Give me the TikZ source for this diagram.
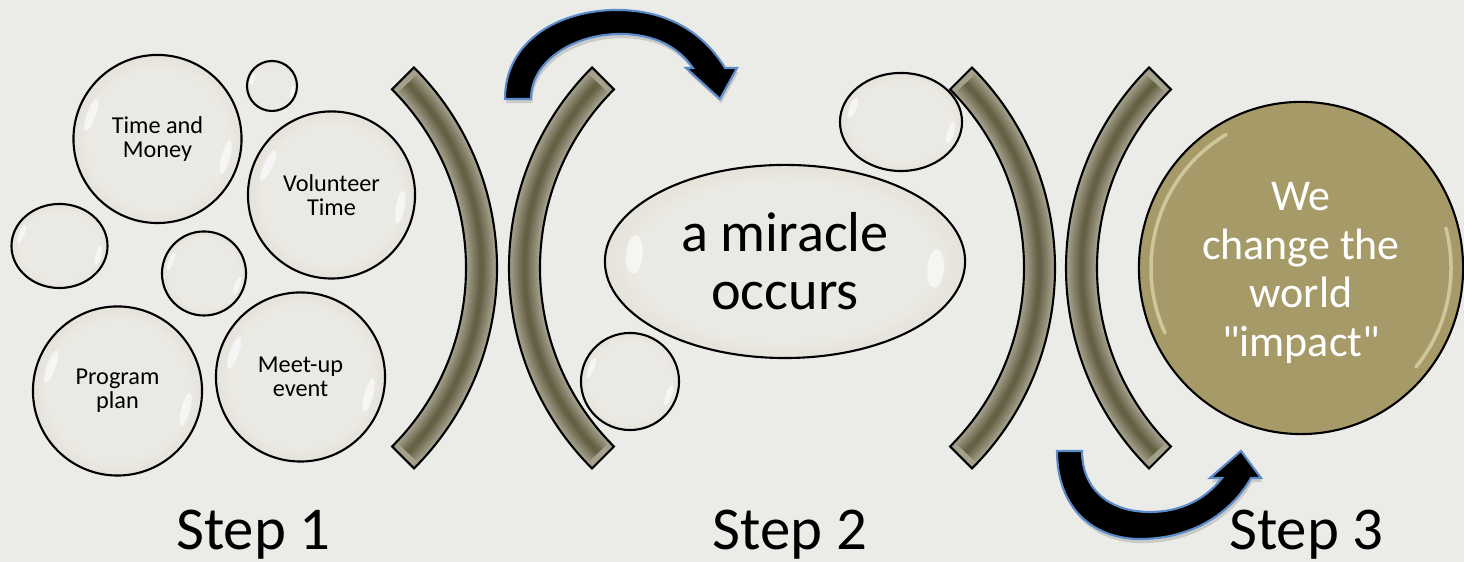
\documentclass[tikz,border=0pt]{standalone}
\usepackage{fontspec}
\setmainfont{Carlito}
\usepackage{xcolor}
\usepackage{tikz}
\usetikzlibrary{calc,shapes.geometric,shadows}
\definecolor{figBg}{HTML}{EBEBE8}
\definecolor{bubbleIn}{HTML}{EAE9E3}
\definecolor{bubbleMid}{HTML}{DCD8CA}
\definecolor{bubbleRim}{HTML}{BCB59D}
\definecolor{figGold}{HTML}{A69B68}
\definecolor{goldGlow}{HTML}{F2ECC8}
\definecolor{bandEdge}{HTML}{A3A08C}
\definecolor{bandCore}{HTML}{635E42}
\definecolor{arrowBlue}{HTML}{5B8BC9}

\pgfdeclareradialshading{bubble}{\pgfpoint{0bp}{0bp}}{%
  color(0bp)=(bubbleIn); color(21bp)=(bubbleIn); color(31bp)=(bubbleMid);
  color(35bp)=(bubbleRim); color(50bp)=(bubbleRim)}

\begin{document}
\begin{tikzpicture}[
  % one unit = one pixel of the 1464 x 562 slide, y upwards
  x=0.01cm, y=0.01cm,
  bubble/.style={
    circle, draw=black, line width=0.6pt, shading=bubble,
    inner sep=0pt, align=center, text=black,
    font=\fontsize{6.9}{6.9}\selectfont
  },
  oval/.style={bubble, ellipse},
  gloss/.style={white, opacity=0.6},
  goldball/.style={
    ellipse, draw=black, fill=figGold, line width=0.6pt,
    inner sep=0pt, align=center, text=white,
    font=\fontsize{12.5}{13.8}\selectfont
  },
  glow/.style={goldGlow, opacity=0.55, line width=0.035cm, line cap=round},
  bracket/.style={fill=bandEdge, draw=black, line width=0.6pt},
  turn/.style={
    fill=black, draw=arrowBlue, line width=0.6pt,
    drop shadow={opacity=0.3, shadow xshift=0.4pt, shadow yshift=-1.2pt}
  },
  steplabel/.style={anchor=base, inner sep=0pt,
    font=\fontsize{17.3}{20}\selectfont},
]

% --- Slide background ---
\fill[figBg] (0,0) rectangle (1464,562);
\useasboundingbox (0,0) rectangle (1464,562);

% --- Brackets: ) ( pairs, thick arcs with darker core ---
\foreach \cx/\a in {213.5/-45, 792.5/135, 771.5/-45, 1349.5/135} {
  \pgfmathsetmacro{\b}{\a+90}
  \pgfmathsetmacro{\in}{\a+270}
  \draw[bracket] (\cx,294) ++(\a:283.5)
    arc[start angle=\a, delta angle=90, radius=283.5]
    -- ++(\in:31)
    arc[start angle=\b, delta angle=-90, radius=252.5] -- cycle;
  \foreach \i in {1,...,8} {
    \pgfmathsetmacro{\w}{30-3.2*\i}
    \pgfmathtruncatemacro{\mix}{100-12*\i}
    \draw[line width=\w*0.01cm, bandEdge!\mix!bandCore] (\cx,294) ++(\a+1.5:268)
      arc[start angle=\a+1.5, delta angle=87, radius=268];
  }
}

% --- Step 1: resources ---
\node[bubble, minimum size=1.68cm] (money) at (157.5,423) {Time and\\Money};
\node[bubble, minimum size=0.50cm] (dotTop) at (272,476) {};
\node[bubble, minimum size=1.67cm] (volunteer) at (331.5,367) {Volunteer\\Time};
\node[oval, minimum width=0.96cm, minimum height=0.84cm] (dotLeft) at (59.5,316) {};
\node[bubble, minimum size=0.84cm] (dotMid) at (204,288.5) {};
\node[bubble, minimum size=1.69cm] (program) at (117.5,171) {Program\\plan};
\node[bubble, minimum size=1.69cm] (meetup) at (300.5,185) {Meet-up\\event};

% --- Step 2: the miracle ---
\node[oval, minimum width=3.60cm, minimum height=1.93cm,
      font=\fontsize{16}{16.5}\selectfont]
  (miracle) at (785,300.5) {a miracle\\occurs};
\node[oval, minimum width=1.22cm, minimum height=0.98cm] (dotUp) at (901,440) {};
\node[oval, minimum width=0.98cm, minimum height=0.97cm] (dotLow) at (630,180.5) {};

% --- Glossy highlights on the bubbles ---
\foreach \n/\rx/\ry/\p/\q in {money/84/84/160/-15, dotTop/25/25/160/-15,
    volunteer/83/83/155/-10, dotLeft/48/42/160/-15, dotMid/42/42/160/-20,
    program/84/84/160/-15, meetup/84/84/160/-15, miracle/180/96/175/-5,
    dotUp/61/49/160/-15, dotLow/49/48/160/-20} {
  \fill[gloss] ($(\n.center)+({0.84*\rx*cos(\p)},{0.84*\ry*sin(\p)})$)
    ellipse[x radius=0.04*\rx+1, y radius=0.18*\ry+2, rotate=\p];
  \fill[gloss] ($(\n.center)+({0.84*\rx*cos(\q)},{0.84*\ry*sin(\q)})$)
    ellipse[x radius=0.04*\rx+1, y radius=0.18*\ry+2, rotate=\q];
}

% --- Step 3: impact ---
\node[goldball, minimum width=3.24cm, minimum height=3.32cm,
      label={[text=white, align=center, yshift=-0.05cm,
              font=\fontsize{12.5}{13.8}\selectfont]center:{We\\change the\\world\\\textquotedbl impact\textquotedbl}}]
  (impact) at (1301,294) {};
\draw[glow] (impact.center) ++(120:150 and 154)
  arc[start angle=120, end angle=205, x radius=150, y radius=154];
\draw[glow] (impact.center) ++(-40:150 and 154)
  arc[start angle=-40, end angle=15, x radius=150, y radius=154];

% --- Curved arrows ---
\draw[turn] (505,463) .. controls (505,522) and (560,552) .. (617,552)
  .. controls (670,552) and (705,527) .. (725,494)
  -- (737,494) -- (720,463) -- (686,494) -- (693,494)
  .. controls (678,515) and (655,528) .. (620,528)
  .. controls (575,528) and (531,502) .. (531,463) -- cycle;
\draw[turn] (1057,111) .. controls (1057,52) and (1095,23) .. (1140,23)
  .. controls (1190,23) and (1230,47) .. (1251,84)
  -- (1261,84) -- (1241,111) -- (1210,84) -- (1222,84)
  .. controls (1205,62) and (1180,50) .. (1150,50)
  .. controls (1110,50) and (1082,72) .. (1082,111) -- cycle;

% --- Step labels ---
\foreach \lx/\k in {253.5/1, 790/2, 1306.5/3}
  \node[steplabel] (step\k) at (\lx,12) {Step \k};

\end{tikzpicture}
\end{document}
